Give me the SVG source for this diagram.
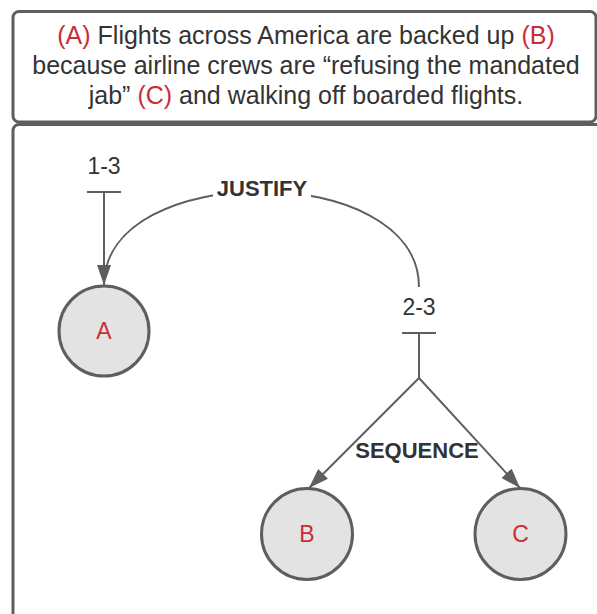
<svg xmlns="http://www.w3.org/2000/svg" width="597" height="614" viewBox="0 0 597 614">
  <defs>
    <marker id="arrow" viewBox="0 0 20 14" refX="20" refY="7" markerWidth="20" markerHeight="14" markerUnits="userSpaceOnUse" orient="auto">
      <path d="M0,0 L20,7 L0,14 Z" fill="#5e5e5e"/>
    </marker>
    <style>
      .frame { fill: #ffffff; stroke: #5e5e5e; stroke-width: 3; }
      .node { fill: #e3e3e3; stroke: #5e5e5e; stroke-width: 3; }
      .edge { fill: none; stroke: #5e5e5e; stroke-width: 2; }
      .txt { font-family: "Liberation Sans", Arial, sans-serif; font-size: 23px; fill: #333333; }
      .cap { font-size: 25px; }
      .red { fill: #c92d39; }
      .lbl { font-family: "Liberation Sans", Arial, sans-serif; font-size: 22px; font-weight: bold; fill: #333333; }
    </style>
  </defs>

  <rect width="597" height="614" fill="#ffffff"/>

  <!-- caption panel -->
  <g id="caption">
    <rect class="frame" x="13" y="11.5" width="583" height="110.5" rx="6"/>
    <text class="txt cap" text-anchor="middle" x="306" y="44"><tspan class="red">(A)</tspan> Flights across America are backed up <tspan class="red">(B)</tspan></text>
    <text class="txt cap" text-anchor="middle" x="306" y="74">because airline crews are “refusing the mandated</text>
    <text class="txt cap" text-anchor="middle" x="306" y="104">jab” <tspan class="red">(C)</tspan> and walking off boarded flights.</text>
  </g>

  <!-- diagram panel -->
  <g id="panel">
    <rect class="frame" x="13" y="124.5" width="600" height="520" rx="6"/>
  </g>

  <!-- connectors -->
  <g id="connectors">
    <!-- 1-3 group into A -->
    <line class="edge" x1="87" y1="192" x2="121" y2="192"/>
    <line class="edge" x1="104" y1="192" x2="104" y2="285" marker-end="url(#arrow)"/>
    <text class="txt" text-anchor="middle" x="104" y="174">1-3</text>

    <!-- JUSTIFY relation from 2-3 to A -->
    <path class="edge" d="M419,287 C419,160 104,160 104,285"/>
    <rect x="213" y="178" width="98" height="22" fill="#ffffff"/>
    <text class="lbl" text-anchor="middle" x="262" y="196">JUSTIFY</text>

    <!-- 2-3 group into B and C -->
    <text class="txt" text-anchor="middle" x="419" y="315">2-3</text>
    <line class="edge" x1="402" y1="333" x2="436" y2="333"/>
    <line class="edge" x1="419" y1="333" x2="419" y2="378"/>
    <line class="edge" x1="419" y1="378" x2="309" y2="488" marker-end="url(#arrow)"/>
    <line class="edge" x1="419" y1="378" x2="520" y2="488" marker-end="url(#arrow)"/>
    <text class="lbl" text-anchor="middle" x="417" y="458">SEQUENCE</text>
  </g>

  <g id="node-A">
    <circle class="node" cx="104" cy="331" r="45"/>
    <text class="txt red" text-anchor="middle" x="104" y="339">A</text>
  </g>
  <g id="node-B">
    <circle class="node" cx="307" cy="534" r="45.5"/>
    <text class="txt red" text-anchor="middle" x="307" y="542">B</text>
  </g>
  <g id="node-C">
    <circle class="node" cx="520.5" cy="534" r="45.5"/>
    <text class="txt red" text-anchor="middle" x="520.5" y="542">C</text>
  </g>
</svg>
